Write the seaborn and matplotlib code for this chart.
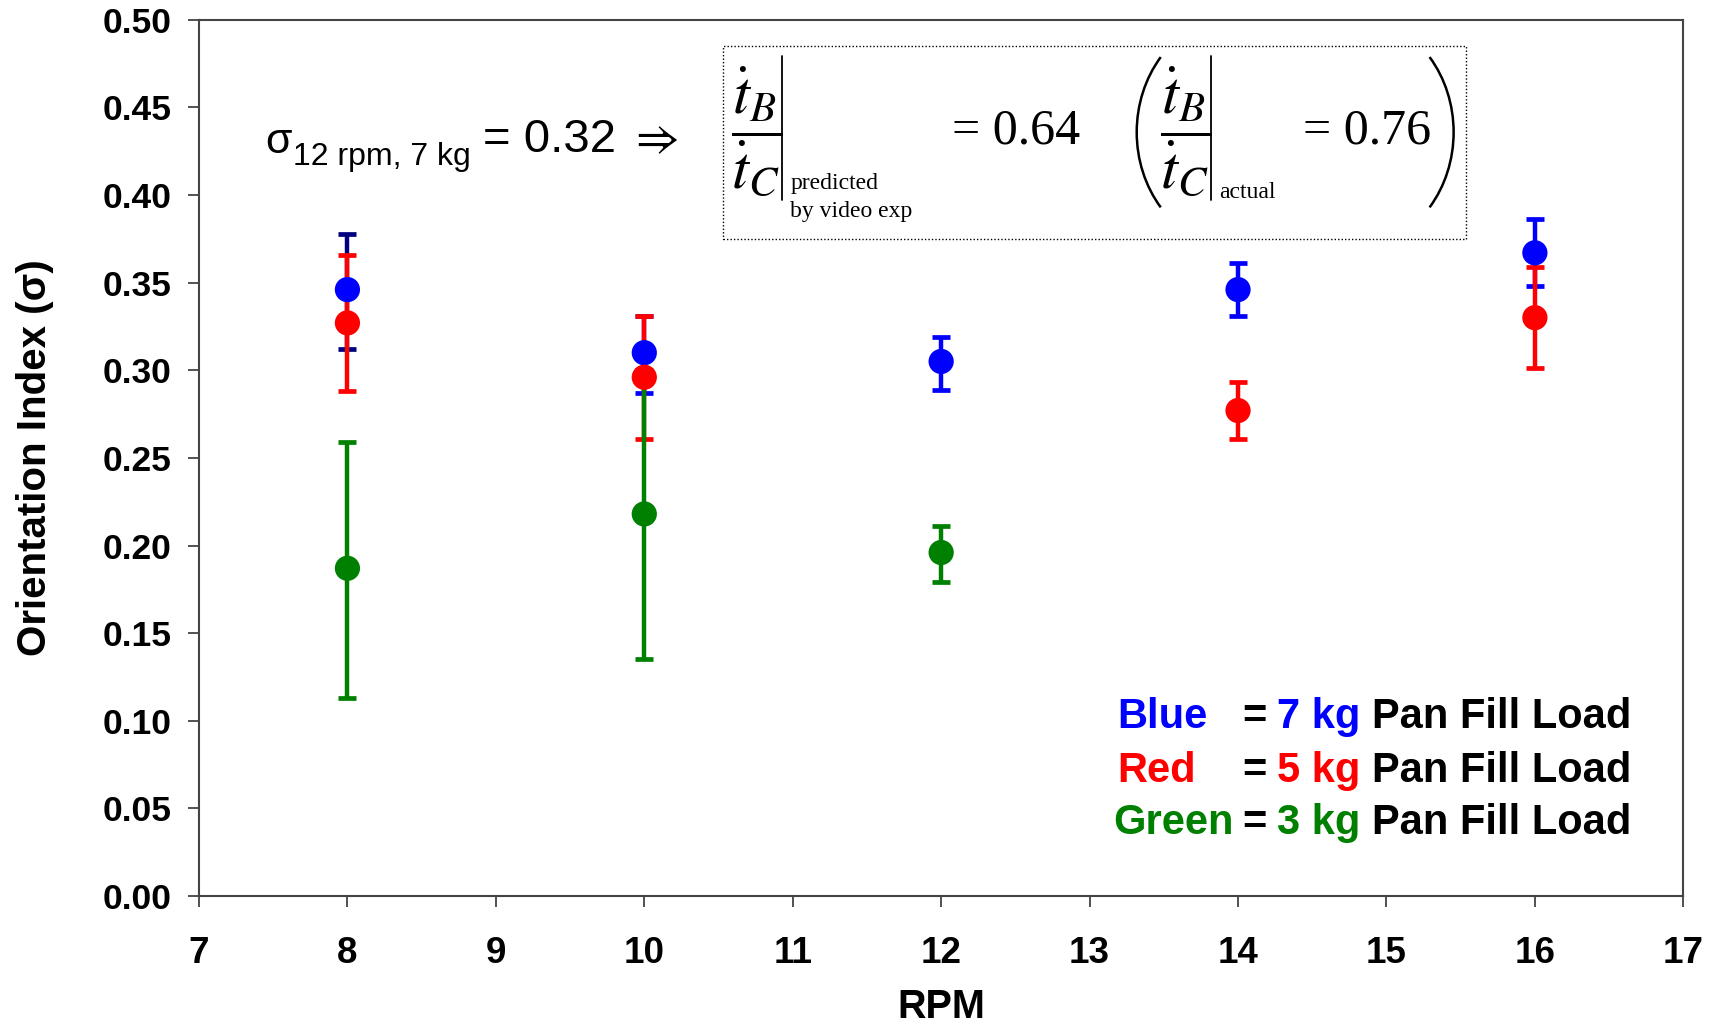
import numpy as np
import pandas as pd
import matplotlib
matplotlib.use("Agg")
import matplotlib.pyplot as plt
from matplotlib.patches import Rectangle, Arc
import seaborn as sns

# ---------------- data ----------------
blue_rpm = [8, 10, 12, 14, 16]
blue_mean = [0.346, 0.310, 0.305, 0.346, 0.367]
blue_lo = [0.312, 0.287, 0.289, 0.331, 0.348]
blue_hi = [0.378, 0.331, 0.319, 0.361, 0.386]

red_rpm = [8, 10, 14, 16]
red_mean = [0.327, 0.296, 0.277, 0.330]
red_lo = [0.288, 0.261, 0.261, 0.301]
red_hi = [0.366, 0.331, 0.293, 0.359]

green_rpm = [8, 10, 12]
green_mean = [0.187, 0.218, 0.196]
green_lo = [0.113, 0.135, 0.179]
green_hi = [0.259, 0.300, 0.211]

x_ticks = [7, 8, 9, 10, 11, 12, 13, 14, 15, 16, 17]
y_ticks = [0.00, 0.05, 0.10, 0.15, 0.20, 0.25, 0.30, 0.35, 0.40, 0.45, 0.50]

BLUE, RED, GREEN, NAVY = "#0000FF", "#FF0000", "#008000", "#000080"

# ---------------- style ----------------
sns.set_theme(style="ticks")
plt.rcParams["font.family"] = ["Liberation Sans", "DejaVu Sans"]
plt.rcParams["text.color"] = "black"
plt.rcParams["axes.labelcolor"] = "black"
plt.rcParams["xtick.color"] = "black"
plt.rcParams["ytick.color"] = "black"

fig = plt.figure(figsize=(17.14, 10.25), dpi=100)
ax = fig.add_axes([0.1161, 0.1258, 0.8660, 0.8550])

series = [
    ("7 kg", blue_rpm, blue_mean, blue_lo, blue_hi, BLUE, [NAVY, BLUE, BLUE, BLUE, BLUE]),
    ("5 kg", red_rpm, red_mean, red_lo, red_hi, RED, [RED] * len(red_rpm)),
    ("3 kg", green_rpm, green_mean, green_lo, green_hi, GREEN, [GREEN] * len(green_rpm)),
]

# error bars
for name, xs, m, lo, hi, col, ecols in series:
    m = np.asarray(m); lo = np.asarray(lo); hi = np.asarray(hi)
    for i in range(len(xs)):
        ax.errorbar([xs[i]], [m[i]], yerr=[[m[i] - lo[i]], [hi[i] - m[i]]],
                    fmt="none", ecolor=ecols[i], elinewidth=3.2, capsize=6.5,
                    capthick=3.4, zorder=2)

# markers through seaborn
frames = []
for name, xs, m, lo, hi, col, ecols in series:
    frames.append(pd.DataFrame({"RPM": xs, "sigma": m, "load": name}))
df = pd.concat(frames, ignore_index=True)
sns.scatterplot(data=df, x="RPM", y="sigma", hue="load",
                palette={"7 kg": BLUE, "5 kg": RED, "3 kg": GREEN},
                s=330, linewidth=0, legend=False, ax=ax, zorder=3)

# ---------------- axes ----------------
ax.set_xlim(7, 17)
ax.set_ylim(0, 0.5)
ax.set_xticks(x_ticks)
ax.set_yticks(y_ticks)
ax.set_xticklabels([str(t) for t in x_ticks], fontsize=26.5, fontweight="bold")
ax.set_yticklabels([f"{t:.2f}" for t in y_ticks], fontsize=25.5, fontweight="bold")
ax.tick_params(axis="both", direction="out", length=8, width=1.2, color="#333333")
ax.tick_params(axis="x", pad=21)
ax.tick_params(axis="y", pad=12)
for sp in ax.spines.values():
    sp.set_visible(True)
    sp.set_color("#444444")
    sp.set_linewidth(1.5)
ax.set_xlabel("RPM", fontsize=28.5, fontweight="bold", labelpad=12)
ax.set_ylabel("Orientation Index (σ)", fontsize=29, fontweight="bold", labelpad=35)

# ---------------- annotation: sigma ----------------
ax.text(7.445, 0.4238, "σ", fontsize=31, ha="left", va="baseline")
ax.text(7.633, 0.417, "12 rpm, 7 kg", fontsize=23, ha="left", va="baseline")
ax.text(8.914, 0.4245, "= 0.32", fontsize=34, ha="left", va="baseline")
ax.text(9.90, 0.4245, r"$\Rightarrow$", fontsize=34, ha="left", va="baseline",
        math_fontfamily="stix")

# dotted box
ax.add_patch(Rectangle((10.527, 0.375), 5.008, 0.110, fill=False,
                       edgecolor="black", linestyle=(0, (1, 1.5)), linewidth=1.0, zorder=1))

serif = "Liberation Serif"
frac = r"$\dfrac{\dot{t}_B}{\dot{t}_C}$"
# predicted fraction
ax.text(10.755, 0.4364, frac, fontsize=44, ha="center", va="center", math_fontfamily="stix")
ax.plot([10.925, 10.925], [0.397, 0.479], color="black", lw=1.3)
ax.text(10.984, 0.4035, "predicted", fontsize=17, family=serif, ha="left", va="baseline")
ax.text(10.984, 0.3875, "by video exp", fontsize=17, family=serif, ha="left", va="baseline")
ax.text(12.07, 0.4364, "= 0.64", fontsize=36, family=serif, ha="left", va="center")


def arc_theta(t_deg, w, h):
    t = np.deg2rad(t_deg)
    return np.rad2deg(np.arctan2(h * np.sin(t), w * np.cos(t)))


pw, ph = 1.385, 0.1334
ax.add_patch(Arc((14.01, 0.4358), pw, ph,
                 theta1=arc_theta(140, pw, ph) % 360, theta2=arc_theta(220, pw, ph) % 360,
                 color="black", lw=1.8))
ax.add_patch(Arc((14.76, 0.4358), pw, ph,
                 theta1=arc_theta(-40, pw, ph), theta2=arc_theta(40, pw, ph),
                 color="black", lw=1.8))
ax.text(13.65, 0.4364, frac, fontsize=44, ha="center", va="center", math_fontfamily="stix")
ax.plot([13.82, 13.82], [0.397, 0.479], color="black", lw=1.3)
ax.text(13.87, 0.3985, "actual", fontsize=17, family=serif, ha="left", va="baseline")
ax.text(14.44, 0.4364, "= 0.76", fontsize=36, family=serif, ha="left", va="center")

# ---------------- colour key ----------------
rows = [
    ("Blue", "7 kg", BLUE, 0.2045, 0.6186),
    ("Red", "5 kg", RED, 0.143, 0.6186),
    ("Green", "3 kg", GREEN, 0.0835, 0.616),
]
for word, load, col, yy, x0 in rows:
    kw = dict(transform=ax.transAxes, fontsize=30, fontweight="bold", va="center", ha="left")
    ax.text(x0, yy, word, color=col, **kw)
    ax.text(0.703, yy, "=", color="black", **kw)
    ax.text(0.726, yy, load, color=col, **kw)
    ax.text(0.790, yy, "Pan Fill Load", color="black", **kw)

fig.savefig("out.png", dpi=100, facecolor="white")
